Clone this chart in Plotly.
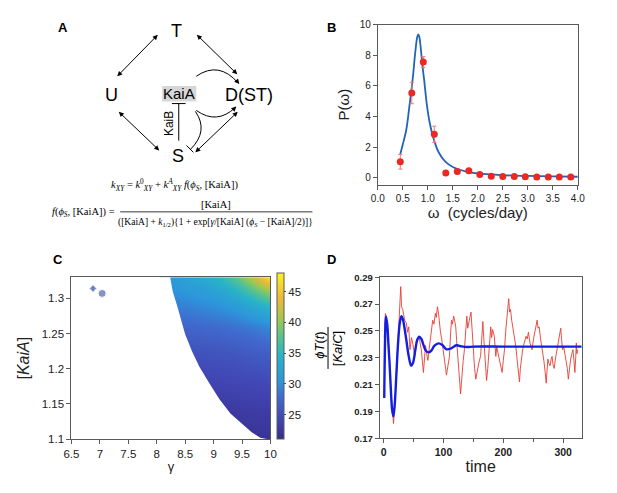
import plotly.graph_objects as go

W, H = 617, 493

# ---- panel B: power spectrum ----
omega_pts = [0.45, 0.68, 0.91, 1.13, 1.36, 1.59, 1.82, 2.04, 2.27, 2.50, 2.73, 2.95, 3.18, 3.41, 3.63, 3.86]
power_pts = [1.04, 5.53, 7.55, 2.83, 0.30, 0.40, 0.45, 0.21, 0.10, 0.08, 0.07, 0.06, 0.05, 0.05, 0.05, 0.05]
power_err = [0.48, 0.70, 0.35, 0.53, 0.06, 0.05, 0.05, 0.04, 0.03, 0.03, 0.02, 0.02, 0.02, 0.02, 0.02, 0.02]
omega_fit = [0.45, 0.50, 0.57, 0.63, 0.70, 0.75, 0.79, 0.81, 0.83, 0.86, 0.89, 0.93, 0.98, 1.04,
             1.12, 1.22, 1.35, 1.51, 1.77, 2.10, 2.50, 3.00, 3.50, 4.00]
power_fit = [1.55, 2.17, 3.13, 4.6, 6.5, 8.2, 9.2, 9.36, 9.2, 8.45, 7.4, 6.3, 4.8, 3.55,
             2.5, 1.64, 1.04, 0.68, 0.40, 0.24, 0.16, 0.11, 0.08, 0.06]

# ---- panel C: period map ----
gamma_grid = [8.2, 8.5, 8.8, 9.1, 9.4, 9.7, 10.0]
kaia_grid = [1.10, 1.14, 1.18, 1.22, 1.26, 1.29, 1.31, 1.33]
period_z = [
    [21.5, 21.5, 21.5, 21.6, 21.8, 21.8, 21.8],
    [22.5, 22.5, 22.5, 22.6, 22.8, 23.0, 23.0],
    [23.8, 23.8, 23.8, 24.0, 24.2, 24.4, 24.6],
    [25.2, 25.2, 25.4, 25.6, 25.9, 26.3, 26.7],
    [27.2, 27.4, 27.7, 28.0, 28.4, 29.0, 29.8],
    [29.0, 29.3, 29.8, 30.4, 31.4, 33.2, 35.2],
    [30.2, 30.7, 31.4, 32.4, 34.4, 37.4, 40.5],
    [31.0, 32.0, 33.2, 35.0, 38.0, 42.0, 47.0],
]
# edge of the oscillating region (left of it: no oscillation)
edge_gamma = [8.215, 8.28, 8.36, 8.43, 8.50, 8.62, 8.75, 8.92, 9.10, 9.30, 9.50, 9.67, 9.82, 9.96]
edge_kaia = [1.33, 1.31, 1.289, 1.27, 1.249, 1.225, 1.203, 1.18, 1.157, 1.136, 1.122, 1.11, 1.102, 1.10]
exp_gamma = [6.88, 7.04]
exp_kaia = [1.314, 1.307]
exp_err = [0.003, 0]
exp_symbol = ["diamond", "circle"]

# ---- panel D: time course ----
model_t = [1, 2.5, 3.8, 6, 8, 10, 12, 14, 16.2, 18.5, 21, 24, 27, 29.7, 32, 35, 38, 42, 46, 49,
           53, 56, 59.5, 63, 67, 71, 75.7, 80, 85, 92, 98, 105, 113, 121.6, 130, 140, 150, 200,
           250, 300, 331]
model_v = [0.200, 0.245, 0.2607, 0.255, 0.240, 0.225, 0.207, 0.192, 0.1863, 0.195, 0.215, 0.240,
           0.256, 0.261, 0.259, 0.252, 0.243, 0.231, 0.224, 0.226, 0.236, 0.243, 0.2456, 0.244,
           0.239, 0.235, 0.234, 0.2355, 0.239, 0.2407, 0.2395, 0.2363, 0.237, 0.2393, 0.2385,
           0.238, 0.2383, 0.2383, 0.2383, 0.2383, 0.2383]
sim_t = [1, 3, 6, 9, 12, 14.5, 16.5, 18.5, 21, 24, 26.5, 28.6, 30, 32, 35, 38, 40, 42, 44, 46.5,
         49, 52, 54, 56, 59, 61, 63, 66.5, 70, 72, 74, 76, 78, 80, 82, 84, 86.5, 88, 90, 92,
         93.5, 95, 97, 99, 101, 103, 105, 107.5, 110, 112, 113.5, 115, 117, 119, 120.5, 122, 124,
         126, 128.6, 130, 131, 133, 135, 137, 139, 140.5, 142, 144, 146, 148, 150, 152, 154, 157,
         159.5, 162, 164, 165.8, 167, 168.5, 170, 172, 174, 175.5, 177.5, 179, 180.5, 182, 185,
         187.5, 189, 191, 193.5, 195.6, 198, 200, 202, 204, 206.5, 208, 209, 210.5, 212, 214,
         216, 219, 221, 223, 225, 227, 228.5, 230, 232, 233.7, 236, 238, 240, 242, 244.6, 246,
         248, 250.5, 252.7, 254.5, 256.5, 258, 260, 262, 263.6, 266, 268, 270, 271.7, 273, 274.5,
         276, 278, 280, 281.5, 283, 285, 287, 289, 290.5, 292.4, 294, 296, 297.5, 299, 301,
         302.7, 305.4, 307, 308.7, 310.5, 312.5, 314.5, 316.3, 318, 319.6, 321, 322, 323, 324]
sim_v = [0.245, 0.263, 0.256, 0.236, 0.206, 0.189, 0.181, 0.192, 0.216, 0.246, 0.262, 0.283,
         0.268, 0.266, 0.258, 0.256, 0.249, 0.253, 0.236, 0.245, 0.240, 0.231, 0.238, 0.244,
         0.246, 0.241, 0.236, 0.219, 0.239, 0.233, 0.228, 0.236, 0.244, 0.251, 0.258, 0.255,
         0.263, 0.260, 0.268, 0.262, 0.253, 0.249, 0.244, 0.236, 0.227, 0.224, 0.217, 0.225,
         0.231, 0.249, 0.258, 0.255, 0.261, 0.257, 0.253, 0.243, 0.231, 0.219, 0.203, 0.211,
         0.219, 0.228, 0.236, 0.250, 0.261, 0.252, 0.256, 0.259, 0.264, 0.250, 0.234, 0.222,
         0.214, 0.222, 0.227, 0.231, 0.248, 0.257, 0.247, 0.236, 0.225, 0.213, 0.222, 0.231,
         0.245, 0.253, 0.245, 0.251, 0.246, 0.231, 0.238, 0.234, 0.228, 0.224, 0.219, 0.228,
         0.236, 0.250, 0.263, 0.270, 0.274, 0.264, 0.266, 0.258, 0.253, 0.244, 0.238, 0.229,
         0.222, 0.212, 0.222, 0.229, 0.235, 0.239, 0.243, 0.246, 0.244, 0.249, 0.241, 0.238,
         0.236, 0.244, 0.250, 0.255, 0.258, 0.252, 0.253, 0.245, 0.241, 0.232, 0.227, 0.219,
         0.211, 0.220, 0.229, 0.226, 0.224, 0.229, 0.231, 0.225, 0.222, 0.229, 0.234, 0.238,
         0.241, 0.245, 0.252, 0.243, 0.236, 0.238, 0.234, 0.227, 0.222, 0.214, 0.222, 0.229,
         0.233, 0.236, 0.228, 0.219, 0.230, 0.241, 0.233, 0.236]
d_ticks = [0.17, 0.19, 0.21, 0.23, 0.25, 0.27, 0.29]

parula = [[0.0, "rgb(55,45,140)"], [0.12, "rgb(65,70,180)"], [0.25, "rgb(65,105,205)"],
          [0.35, "rgb(45,150,220)"], [0.50, "rgb(40,180,200)"], [0.62, "rgb(90,195,140)"],
          [0.72, "rgb(160,200,80)"], [0.85, "rgb(240,185,55)"], [1.0, "rgb(250,245,30)"]]

SANS = "Liberation Sans, Arial, sans-serif"
SERIF = "Liberation Serif, DejaVu Serif, serif"
FRAME = "rgb(90,90,90)"


def dom(a, b, total):
    return [a / total, b / total]


def ydom(top, bottom):
    return [1 - bottom / H, 1 - top / H]


axis_style = dict(showline=True, mirror=True, linecolor=FRAME, linewidth=1, ticks="outside",
                  ticklen=4, tickcolor=FRAME, showgrid=False, zeroline=False)

fig = go.Figure()

# panel B
fig.add_trace(go.Scatter(x=omega_fit, y=power_fit, mode="lines", line=dict(color="rgb(35,100,180)", width=1.8, shape="spline"),
                         xaxis="x", yaxis="y", showlegend=False))
fig.add_trace(go.Scatter(x=omega_pts, y=power_pts, mode="markers",
                         marker=dict(color="rgb(235,40,35)", size=7),
                         error_y=dict(type="data", array=power_err, color="rgb(240,120,110)", thickness=1, width=2),
                         xaxis="x", yaxis="y", showlegend=False))

# panel C
fig.add_trace(go.Heatmap(x=gamma_grid, y=kaia_grid, z=period_z, zsmooth="best", colorscale=parula,
                         zmin=21, zmax=48, xaxis="x2", yaxis="y2",
                         colorbar=dict(thickness=7, len=166, lenmode="pixels", x=276 / W, xanchor="left",
                                       y=1 - 444 / H, yanchor="bottom", outlinecolor=FRAME, outlinewidth=1,
                                       tickvals=[25, 30, 35, 40, 45], ticks="outside", ticklen=2,
                                       tickfont=dict(family=SANS, size=11.5, color="#222"), xpad=0, ypad=0)))
fig.add_trace(go.Scatter(x=[6.4, 6.4] + edge_gamma + [6.4], y=[1.09, 1.34, 1.34] + edge_kaia[1:] + [1.09],
                         fill="toself", fillcolor="white", mode="lines", line=dict(width=0, color="white"),
                         xaxis="x2", yaxis="y2", showlegend=False, hoverinfo="skip"))
fig.add_trace(go.Scatter(x=exp_gamma, y=exp_kaia, mode="markers",
                         marker=dict(color="rgb(75,105,175)", size=[6, 8], symbol=exp_symbol),
                         error_y=dict(type="data", array=exp_err, color="rgb(75,105,175)", thickness=1, width=0),
                         xaxis="x2", yaxis="y2", showlegend=False))

# panel D
fig.add_trace(go.Scatter(x=sim_t, y=sim_v, mode="lines", line=dict(color="rgb(232,60,50)", width=0.9),
                         xaxis="x3", yaxis="y3", showlegend=False))
fig.add_trace(go.Scatter(x=model_t, y=model_v, mode="lines", line=dict(color="rgb(20,30,225)", width=2.4, shape="spline"),
                         xaxis="x3", yaxis="y3", showlegend=False))

# whole-page axis in pixel units for the diagram of panel A
fig.add_trace(go.Scatter(x=[0], y=[0], mode="markers", marker=dict(opacity=0), xaxis="x4", yaxis="y4",
                         showlegend=False, hoverinfo="skip"))

tick_font = dict(family=SANS, size=10, color="#222")
bold_tick = dict(family=SANS, size=9.5, color="#222", weight="bold")

fig.update_layout(
    width=W, height=H, margin=dict(l=0, r=0, t=0, b=0),
    paper_bgcolor="white", plot_bgcolor="rgba(0,0,0,0)",
    xaxis=dict(axis_style, domain=dom(379, 584, W), range=[0, 4], dtick=0.5, tickformat=".1f",
               tickfont=tick_font, anchor="y",
               title=dict(text="ω  (cycles/day)", font=dict(family=SANS, size=15, color="#222"), standoff=4)),
    yaxis=dict(axis_style, domain=ydom(19, 183), range=[-0.45, 10], dtick=2, tickfont=tick_font, anchor="x",
               title=dict(text="P(ω)", font=dict(family=SANS, size=15, color="#222"), standoff=6)),
    xaxis2=dict(axis_style, domain=dom(65, 269, W), range=[6.5, 10], dtick=0.5, anchor="y2",
                tickvals=[6.5, 7, 7.5, 8, 8.5, 9, 9.5, 10], ticktext=["6.5", "7", "7.5", "8", "8.5", "9", "9.5", "10"],
                tickfont=dict(family=SANS, size=11.5, color="#222"),
                title=dict(text="γ", font=dict(family=SANS, size=13, color="#222"), standoff=2)),
    yaxis2=dict(axis_style, domain=ydom(278, 444), range=[1.1, 1.33], anchor="x2",
                tickvals=[1.1, 1.15, 1.2, 1.25, 1.3], ticktext=["1.1", "1.15", "1.2", "1.25", "1.3"],
                tickfont=dict(family=SANS, size=11.5, color="#222"),
                title=dict(text="[<i>KaiA</i>]", font=dict(family=SANS, size=16, color="#222"), standoff=8)),
    xaxis3=dict(axis_style, domain=dom(381, 588, W), range=[-6.5, 331], tickvals=[0, 100, 200, 300], anchor="y3",
                minor=dict(dtick=50, tick0=0, ticks="outside", ticklen=3, tickcolor=FRAME),
                tickfont=dict(bold_tick, size=10.5),
                title=dict(text="time", font=dict(family=SANS, size=16, color="#222"), standoff=3)),
    yaxis3=dict(axis_style, domain=ydom(278, 443), range=[0.17, 0.29], tickvals=d_ticks, tickformat=".2f",
                anchor="x3", tickfont=bold_tick),
    xaxis4=dict(domain=[0, 1], range=[0, W], visible=False, fixedrange=True, anchor="y4"),
    yaxis4=dict(domain=[0, 1], range=[H, 0], visible=False, fixedrange=True, anchor="x4"),
)

ann = []
shapes = []


def label(x, y, text, size, family=SANS, angle=0, **kw):
    ann.append(dict(x=x, y=y, xref="x4", yref="y4", text=text, showarrow=False, textangle=angle,
                    font=dict(family=family, size=size, color="black"), **kw))


def double_arrow(x0, y0, x1, y1):
    ann.append(dict(x=x1, y=y1, ax=x0, ay=y0, xref="x4", yref="y4", axref="x4", ayref="y4", text="",
                    showarrow=True, arrowhead=2, startarrowhead=2, arrowside="end+start", arrowsize=1,
                    startarrowsize=1, arrowwidth=1, arrowcolor="black"))


def head(x0, y0, x1, y1):
    ann.append(dict(x=x1, y=y1, ax=x0, ay=y0, xref="x4", yref="y4", axref="x4", ayref="y4", text="",
                    showarrow=True, arrowhead=2, arrowsize=1, arrowwidth=1, arrowcolor="black"))


def path(d):
    shapes.append(dict(type="path", path=d, xref="x4", yref="y4", line=dict(color="black", width=1)))


# panel letters
for x, y, t in [(56, 22, "A"), (332, 22, "B"), (51, 260, "C"), (332, 260, "D")]:
    label(x, y, "<b>" + t + "</b>", 13)

# panel A diagram
shapes.append(dict(type="rect", x0=158, x1=193, y0=82, y1=98, xref="x4", yref="y4",
                   fillcolor="rgb(215,215,215)", line=dict(width=0), layer="below"))
label(173, 26, "T", 18)
label(106, 91, "U", 18)
label(247, 91, "D(ST)", 18)
label(174, 154, "S", 18)
label(175.5, 90, "KaiA", 15)
label(165, 120, "KaiB", 12, angle=-90)
double_arrow(155, 28, 112, 72)
double_arrow(192, 28, 235, 70)
double_arrow(112, 107, 155, 148)
double_arrow(237, 107, 192, 150)
path("M 193,72 Q 216,56 236,79")
head(233, 75, 237, 80)
path("M 193,107 Q 214,122 233,104")
head(230, 107, 234, 103)
path("M 175,100 L 175,138")
path("M 168,100 L 182,100")
path("M 192,108 Q 206,128 187,147")
path("M 183,143 L 190,150")

# formulas
label(171, 183, "<i>k<sub>XY</sub></i> = <i>k</i><sup>0</sup><sub><i>XY</i></sub> + <i>k</i><sup><i>A</i></sup><sub><i>XY</i></sub>"
      " <i>f</i>(<i>ϕ<sub>S</sub></i>, [KaiA])", 10.5, family=SERIF)
label(112, 212, "<i>f</i>(<i>ϕ<sub>S</sub></i>, [KaiA]) =", 10.5, family=SERIF, xanchor="right")
label(213, 203, "[KaiA]", 10.5, family=SERIF)
shapes.append(dict(type="line", x0=115, x1=312, y0=211, y1=211, xref="x4", yref="y4",
                   line=dict(color="black", width=0.8)))
label(213, 222, "([KaiA] + <i>k</i><sub>1/2</sub>){1 + exp[<i>γ</i>/[KaiA] (<i>ϕ<sub>S</sub></i> − [KaiA]/2)]}",
      9.5, family=SERIF)

# panel D y title (fraction)
label(319, 348, "<i>ϕT</i>(<i>t</i>)", 13, angle=-90)
shapes.append(dict(type="line", x0=328, x1=328, y0=329, y1=372, xref="x4", yref="y4",
                   line=dict(color="black", width=1)))
label(338, 351, "[<i>KaiC</i>]", 13, angle=-90)

fig.update_layout(annotations=ann, shapes=shapes)

fig.write_html("out.html", config={"displayModeBar": False},
               post_script="document.body.style.margin='0';")
